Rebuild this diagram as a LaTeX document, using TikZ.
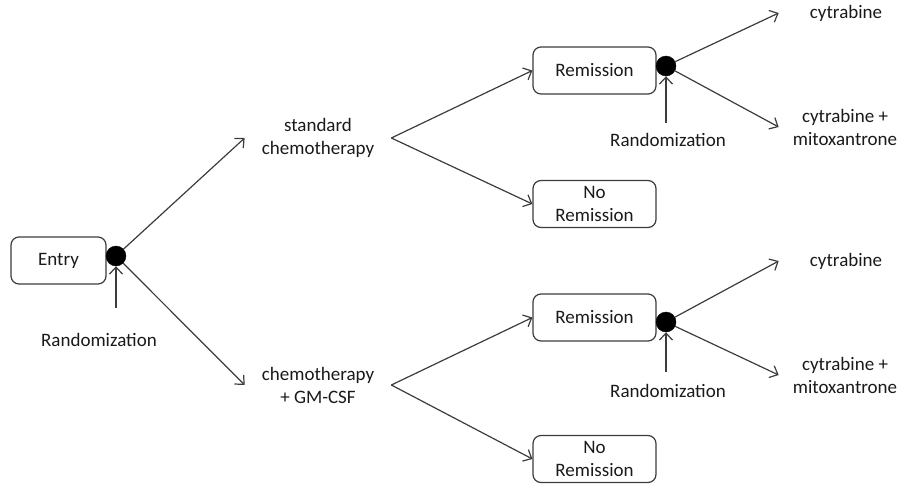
\documentclass[tikz,border=0pt]{standalone}
\usepackage{fontspec}
\setmainfont{Carlito}
\usetikzlibrary{arrows.meta}
\definecolor{linec}{HTML}{3C3C3C}
\definecolor{textc}{HTML}{1A1A1A}
\begin{document}
\begin{tikzpicture}[x=1pt,y=-1pt,
  every node/.style={font=\fontsize{19}{23}\selectfont, text=textc},
  box/.style={draw=linec, line width=1.2pt, rounded corners=8pt, minimum height=47pt, align=center, inner sep=0pt},
  dotc/.style={circle, fill=black, draw=black, minimum size=20pt, inner sep=0pt},
  lbl/.style={align=center, inner ysep=0pt},
  conn/.style={draw=linec, line width=1.2pt, -{Straight Barb[length=7pt,width=13pt,line width=1.2pt]}}
]
\useasboundingbox (0,0) rectangle (900,485);

% left
\node[box, minimum width=95pt] (entry) at (58.5,260.5) {Entry};
\node[dotc] (d0) at (116,256) {};
\coordinate (r0) at (116,308);
\node[lbl] (rl0) at (99,340) {Randomization};

% middle
\node[lbl, inner xsep=17pt] (std) at (318,138) {standard\\chemotherapy};
\node[lbl, inner xsep=17pt] (gm) at (318,385) {chemotherapy\\+ GM-CSF};

% top branch
\node[box, minimum width=123pt] (rem1) at (594.5,70.5) {Remission};
\node[box, minimum width=123pt] (norem1) at (594.5,204) {No\\Remission};
\node[dotc] (d1) at (666,66) {};
\coordinate (r1) at (666,123);
\node[lbl] (rl1) at (668,140) {Randomization};
\node[lbl, inner xsep=31pt] (cy1) at (846,13) {cytrabine};
\node[lbl, inner xsep=14pt] (cm1) at (845,127) {cytrabine +\\mitoxantrone};

% bottom branch
\node[box, minimum width=123pt] (rem2) at (594.5,317.5) {Remission};
\node[box, minimum width=123pt] (norem2) at (594.5,459) {No\\Remission};
\node[dotc] (d2) at (666,322) {};
\coordinate (r2) at (666,372);
\node[lbl] (rl2) at (668,391) {Randomization};
\node[lbl, inner xsep=31pt] (cy2) at (846,261) {cytrabine};
\node[lbl, inner xsep=14pt] (cm2) at (845,375) {cytrabine +\\mitoxantrone};

% connectors
\draw[conn] (r0) -- (d0);
\draw[conn] (d0) -- (std.west);
\draw[conn] (d0) -- (gm.west);
\draw[conn] (std.east) -- (rem1.west);
\draw[conn] (std.east) -- (norem1.west);
\draw[conn] (gm.east) -- (rem2.west);
\draw[conn] (gm.east) -- (norem2.west);
\draw[conn] (r1) -- (d1);
\draw[conn] (d1) -- (cy1.west);
\draw[conn] (d1) -- (cm1.west);
\draw[conn] (r2) -- (d2);
\draw[conn] (d2) -- (cy2.west);
\draw[conn] (d2) -- (cm2.west);
\end{tikzpicture}
\end{document}
